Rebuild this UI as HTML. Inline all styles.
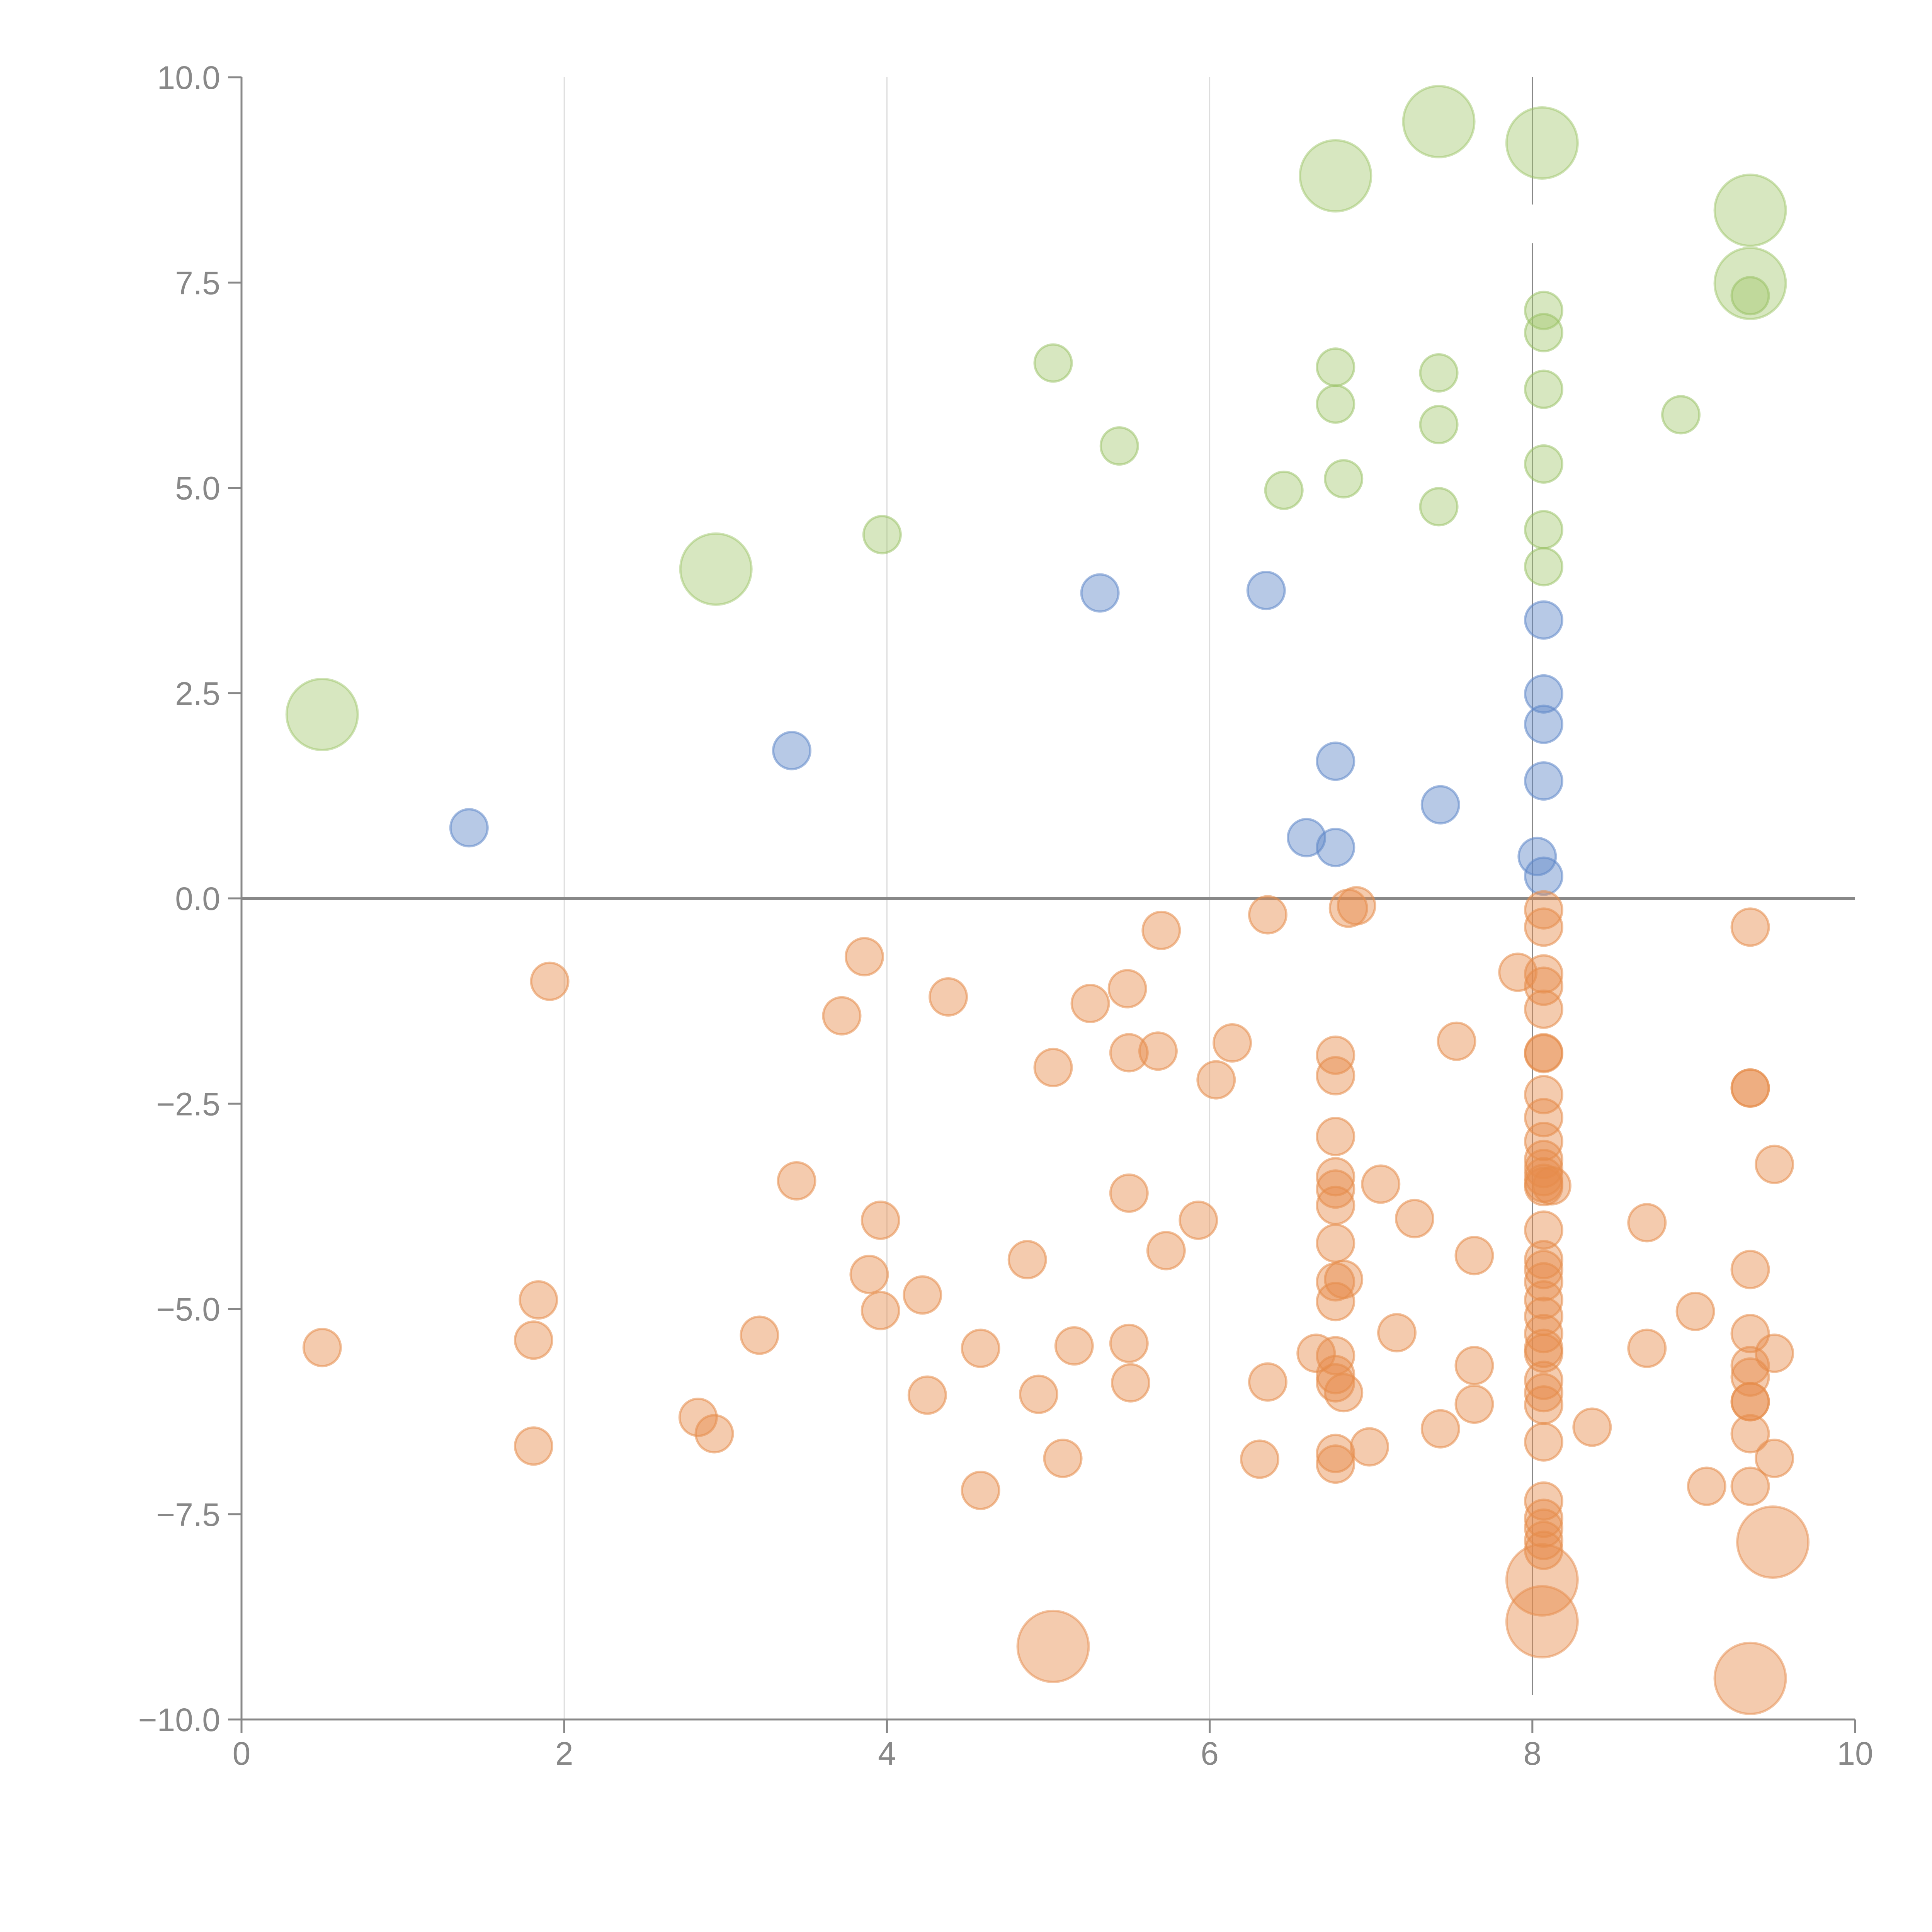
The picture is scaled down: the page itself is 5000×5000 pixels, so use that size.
<!DOCTYPE html>
<html><head><meta charset="utf-8"><style>
html,body{margin:0;padding:0;background:#fff;}
svg{display:block;}
text{font-family:"Liberation Sans",sans-serif;fill:#888;}
</style></head><body>
<svg id="chart" width="5000" height="5000" viewBox="0 0 5000 5000" xmlns="http://www.w3.org/2000/svg">
<g id="grid"></g>
<g id="axes"></g>
<g id="marks"></g>
</svg>
<script>
const xTicks=[0,2,4,6,8,10];
const yTicks=[-10,-7.5,-5,-2.5,0,2.5,5,7.5,10];
const yTickLabels=["−10.0","−7.5","−5.0","−2.5","0.0","2.5","5.0","7.5","10.0"];
const greenBigX=[0.50,2.94,6.78,7.42,8.06,9.35,9.35];
const greenBigY=[2.24,4.01,8.80,9.46,9.20,8.38,7.49];
const greenX=[3.97,5.03,5.44,6.46,6.78,6.78,6.83,7.42,7.42,7.42,8.07,8.07,8.07,8.07,8.07,8.07,8.92,9.35];
const greenY=[4.43,6.52,5.51,4.97,6.47,6.02,5.11,6.40,5.77,4.77,7.16,6.89,6.20,5.29,4.49,4.04,5.89,7.34];
const blueX=[1.41,3.41,5.32,6.35,6.60,6.78,6.78,7.43,8.07,8.07,8.07,8.07,8.03,8.07];
const blueY=[0.86,1.80,3.72,3.75,0.74,1.67,0.62,1.14,3.39,2.49,2.12,1.43,0.51,0.27];
const orangeBigX=[5.03,8.06,8.06,9.49,9.35];
const orangeBigY=[-9.11,-8.30,-8.81,-7.84,-9.50];
const orangeX=[0.50,1.91,1.84,1.81,1.81,2.83,2.93,3.21,3.44,3.72,3.86,3.89,3.96,3.96,4.22,4.25,4.38,4.58,4.58,4.87,4.94,5.03,5.09,5.16,5.26,5.49,5.50,5.50,5.50,5.51,5.68,5.70,5.73,5.93,6.04,6.14,6.31,6.36,6.36,6.66,
6.78,6.78,6.78,6.78,6.78,6.78,6.78,6.78,6.78,6.83,6.78,6.78,6.78,6.83,6.78,6.78,6.86,6.91,6.99,7.06,7.16,7.27,7.43,7.53,7.64,7.64,7.64,7.91,
8.07,8.07,8.07,8.07,8.07,8.07,8.07,8.07,8.07,8.07,8.07,8.07,8.07,8.07,8.07,8.07,8.07,8.07,8.07,8.07,8.07,8.07,8.07,8.07,8.07,8.07,8.07,8.07,8.07,8.07,8.07,8.07,8.07,8.12,
8.37,8.71,8.71,9.01,9.08,9.35,9.35,9.35,9.35,9.35,9.35,9.35,9.35,9.35,9.35,9.35,9.50,9.50,9.50];
const orangeY=[-5.47,-1.01,-4.89,-5.38,-6.67,-6.32,-6.52,-5.32,-3.44,-1.43,-0.71,-4.58,-3.92,-5.02,-4.83,-6.05,-1.20,-5.48,-7.21,-4.40,-6.04,-2.06,-6.82,-5.45,-1.28,-1.10,-1.88,-3.59,-5.42,-5.90,-1.86,-0.39,-4.29,-3.92,-2.21,-1.76,-6.83,-0.20,-5.89,-5.54,
-1.91,-2.16,-2.90,-3.39,-3.54,-3.74,-4.20,-4.67,-4.91,-4.64,-5.57,-5.80,-5.90,-6.02,-6.76,-6.89,-0.12,-0.09,-6.68,-3.48,-5.29,-3.90,-6.46,-1.74,-4.35,-5.69,-6.16,-0.90,
-0.14,-0.35,-0.92,-1.07,-1.35,-1.88,-1.89,-2.39,-2.67,-2.96,-3.18,-3.29,-3.39,-3.47,-3.51,-4.04,-4.40,-4.52,-4.67,-4.89,-5.09,-5.30,-5.48,-5.54,-5.87,-6.02,-6.17,-6.62,-7.34,-7.55,-7.67,-7.82,-7.94,-3.50,
-6.44,-3.95,-5.48,-5.03,-7.16,-0.35,-2.31,-2.31,-4.52,-5.30,-5.69,-5.83,-6.13,-6.13,-6.52,-7.16,-3.24,-5.54,-6.82];

const X0=625,X1=4801,Y0=4450,Y1=200;
function sx(v){return X0+(v-0)/(10-0)*(X1-X0);}
function sy(v){return Y0-(v+10)/20*(Y0-Y1);}
const NS="http://www.w3.org/2000/svg";
function mk(tag,attrs,parent){const e=document.createElementNS(NS,tag);for(const k in attrs)e.setAttribute(k,attrs[k]);parent.appendChild(e);return e;}
const grid=document.getElementById('grid'),axes=document.getElementById('axes'),marks=document.getElementById('marks');

[2,4,6].forEach(v=>{const l=mk('line',{x1:sx(v),x2:sx(v),y1:Y1,y2:Y0,stroke:'#dcdcdc','stroke-width':3},grid);

});
const r1=mk('line',{x1:sx(8),x2:sx(8),y1:Y1,y2:sy(8.45),stroke:'#888','stroke-width':3},grid);


const r2=mk('line',{x1:sx(8),x2:sx(8),y1:sy(7.98),y2:sy(-9.7),stroke:'#888','stroke-width':3},grid);



const ya=mk('line',{x1:X0,x2:X0,y1:Y1,y2:Y0,stroke:'#888','stroke-width':5},axes);


const xa=mk('line',{x1:X0,x2:X1,y1:Y0,y2:Y0,stroke:'#888','stroke-width':5},axes);


yTicks.forEach((v,i)=>{const y=sy(v);
const t=mk('line',{x1:X0-35,x2:X0,y1:y,y2:y,stroke:'#888','stroke-width':5},axes);


const tx=mk('text',{x:X0-55,y:y+30,'text-anchor':'end','font-size':84},axes);tx.textContent=yTickLabels[i];

});
xTicks.forEach(v=>{const x=sx(v);
const t=mk('line',{x1:x,x2:x,y1:Y0,y2:Y0+35,stroke:'#888','stroke-width':5},axes);


const tx=mk('text',{x:x,y:4567,'text-anchor':'middle','font-size':84},axes);tx.textContent=String(v);

});
const z=mk('line',{x1:X0,x2:X1,y1:sy(0),y2:sy(0),stroke:'#888','stroke-width':8},axes);



function draw(xs,ys,r,fill,stroke,name){xs.forEach((v,i)=>{
const c=mk('circle',{cx:sx(v),cy:sy(ys[i]),r:r,fill:fill,stroke:stroke,'stroke-width':6},marks);

});}
draw(greenBigX,greenBigY,92,'rgba(160,198,105,0.42)','rgba(150,192,95,0.45)','green-bubble-large');
draw(greenX,greenY,48,'rgba(160,198,105,0.42)','rgba(150,192,95,0.5)','green-bubble');
draw(blueX,blueY,48,'rgba(95,135,200,0.45)','rgba(95,135,200,0.55)','blue-bubble');
draw(orangeBigX,orangeBigY,92,'rgba(230,140,75,0.45)','rgba(230,140,75,0.5)','orange-bubble-large');
draw(orangeX,orangeY,48,'rgba(230,140,75,0.45)','rgba(230,140,75,0.55)','orange-bubble');
</script>
</body></html>
